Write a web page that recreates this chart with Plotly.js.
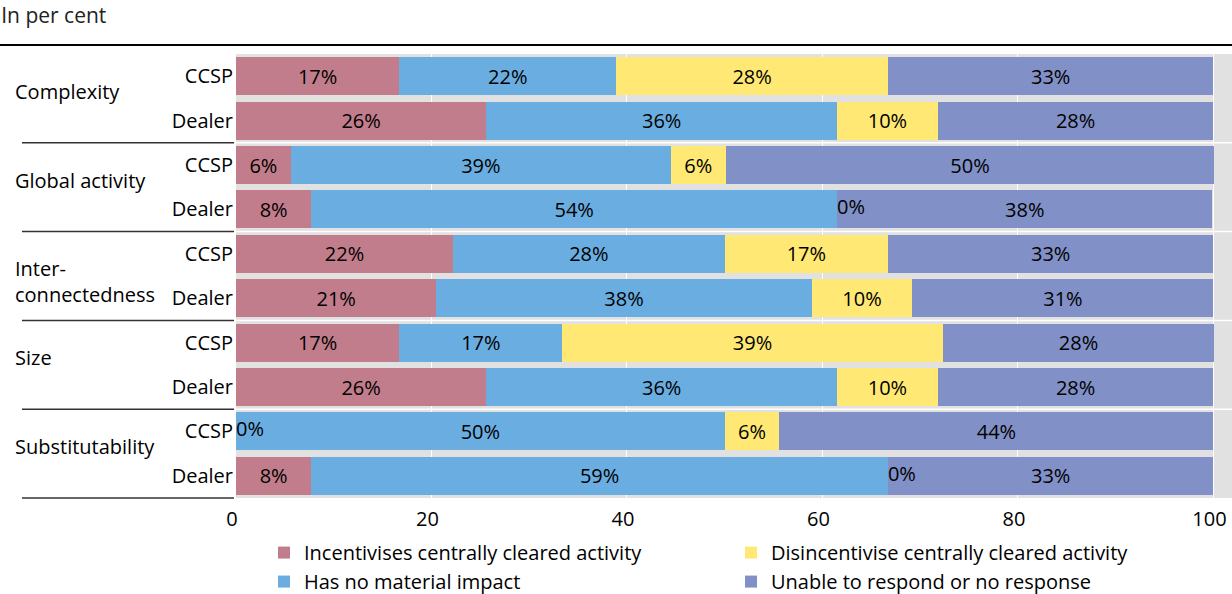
<!DOCTYPE html>
<html><head><meta charset="utf-8">
<script src="https://cdn.plot.ly/plotly-3.0.1.min.js"></script>
<style>html,body{margin:0;padding:0;background:#fff}</style>
</head><body><div id="chart" style="width:1232px;height:594px"></div>
<script>
// ---- data ----
var groups = ['Complexity', 'Global activity', 'Inter-<br>connectedness', 'Size', 'Substitutability'];
var respondents = ['CCSP', 'Dealer'];
var seriesNames = ['Incentivises centrally cleared activity', 'Has no material impact',
                   'Disincentivise centrally cleared activity', 'Unable to respond or no response'];
// rows: Complexity CCSP, Complexity Dealer, Global CCSP, Global Dealer, ...
var incentivises   = [16.7, 25.6,  5.6,  7.7, 22.2, 20.5, 16.7, 25.6,  0.0,  7.7];
var noImpact       = [22.2, 35.9, 38.9, 53.8, 27.8, 38.4, 16.7, 35.9, 50.0, 59.0];
var disincentivise = [27.8, 10.3,  5.6,  0.0, 16.7, 10.3, 38.9, 10.3,  5.6,  0.0];
var noResponse     = [33.3, 28.2, 50.0, 38.4, 33.3, 30.8, 27.8, 28.2, 44.4, 33.3];
var xTicks = [0, 20, 40, 60, 80, 100];
var yTitle = 'In per cent';

// ---- styling ----
var FONT = 'Open Sans, sans-serif';
var colors = ['#c17d8b', '#6aade0', '#ffe873', '#8190c6'];
var legendRanks = [1, 3, 2, 4];
var seriesValues = [incentivises, noImpact, disincentivise, noResponse];
function f(size, color) { return { family: FONT, size: size, color: color || '#000' }; }

var rowIdx = [], rowLabels = [];
groups.forEach(function (g, gi) {
  respondents.forEach(function (r, ri) {
    rowIdx.push(gi * respondents.length + ri);
    rowLabels.push(r);
  });
});

var traces = seriesValues.map(function (vals, si) {
  return {
    type: 'bar', orientation: 'h', name: seriesNames[si],
    x: vals, y: rowIdx,
    width: 0.86,
    marker: { color: colors[si], line: { width: 0 } },
    text: vals.map(function (v) { return v > 0 ? Math.round(v) + '%' : ''; }),
    textposition: 'inside', insidetextanchor: 'middle', constraintext: 'none',
    textangle: 0,
    textfont: f(20),
    legendrank: legendRanks[si],
    hovertemplate: '%{x:.1f}%<extra>' + seriesNames[si] + '</extra>'
  };
});

// labels for zero-value segments, placed at the segment's base
var zx = [], zy = [], zt = [];
rowIdx.forEach(function (row, i) {
  var base = 0;
  seriesValues.forEach(function (vals) {
    if (vals[i] === 0) { zx.push(base); zy.push(row); zt.push('0%'); }
    base += vals[i];
  });
});
traces.push({
  type: 'scatter', mode: 'text', x: zx, y: zy, text: zt,
  textposition: 'middle right', showlegend: false, hoverinfo: 'skip',
  cliponaxis: false,
  textfont: f(20)
});

var nRows = rowIdx.length;
var shapes = [];
// top rule
shapes.push({ type: 'line', xref: 'paper', yref: 'paper', x0: -0.237, x1: 1, y0: 1.0203, y1: 1.0203,
  line: { color: '#000', width: 2 } });
// group separators (left black, white in plot gaps)
for (var gi = 1; gi < groups.length; gi++) {
  var yy = gi * respondents.length - 0.5;
  shapes.push({ type: 'line', xref: 'paper', yref: 'y', x0: -0.2149, x1: -0.002, y0: yy, y1: yy,
    line: { color: '#333', width: 1.5 } });
  shapes.push({ type: 'line', xref: 'paper', yref: 'y', x0: 0, x1: 1, y0: yy, y1: yy, layer: 'below',
    line: { color: '#fff', width: 1.5 } });
}
shapes.push({ type: 'line', xref: 'paper', yref: 'paper', x0: -0.2149, x1: -0.002, y0: 0, y1: 0,
  line: { color: '#333', width: 1.5 } });

var annotations = groups.map(function (g, gi) {
  var center = gi * respondents.length + (respondents.length - 1) / 2;
  var multi = g.indexOf('<br>') >= 0;
  return {
    text: g, xref: 'paper', yref: 'y', x: -0.2239, y: center,
    xanchor: 'left', yanchor: 'middle', align: 'left', showarrow: false,
    yshift: multi ? -5 : 7,
    font: f(20)
  };
});

var layout = {
  width: 1232, height: 594,
  margin: { l: 236, r: 0, t: 54, b: 96, pad: 0, autoexpand: false },
  paper_bgcolor: '#fff', plot_bgcolor: '#e1e1e1',
  barmode: 'stack', bargap: 0.14,
  font: f(20),
  title: { text: yTitle, xref: 'container', yref: 'container', x: 0.001, xanchor: 'left',
    y: 0.973, yanchor: 'middle', font: f(21, '#222') },
  xaxis: { range: [0, 101.9], tickvals: xTicks, ticktext: xTicks.map(String),
    showgrid: true, gridcolor: '#fff', gridwidth: 1, zeroline: false, showline: false,
    ticks: '', ticklabelstandoff: 7, ticklabelshift: -4, automargin: false,
    tickfont: f(20), fixedrange: true },
  yaxis: { range: [nRows - 0.5, -0.5], tickvals: rowIdx, ticktext: rowLabels,
    showgrid: false, zeroline: false, showline: false, ticks: '', ticklabelstandoff: 2,
    automargin: false,
    tickfont: f(20), fixedrange: true },
  legend: { orientation: 'h', x: 0.0281, xanchor: 'left', y: -0.079, yanchor: 'top',
    entrywidth: 422, entrywidthmode: 'pixels', traceorder: 'normal',
    font: f(20), bgcolor: 'rgba(0,0,0,0)' },
  shapes: shapes,
  annotations: annotations
};

Plotly.newPlot('chart', traces, layout, { displayModeBar: false, staticPlot: true });
</script></body></html>
